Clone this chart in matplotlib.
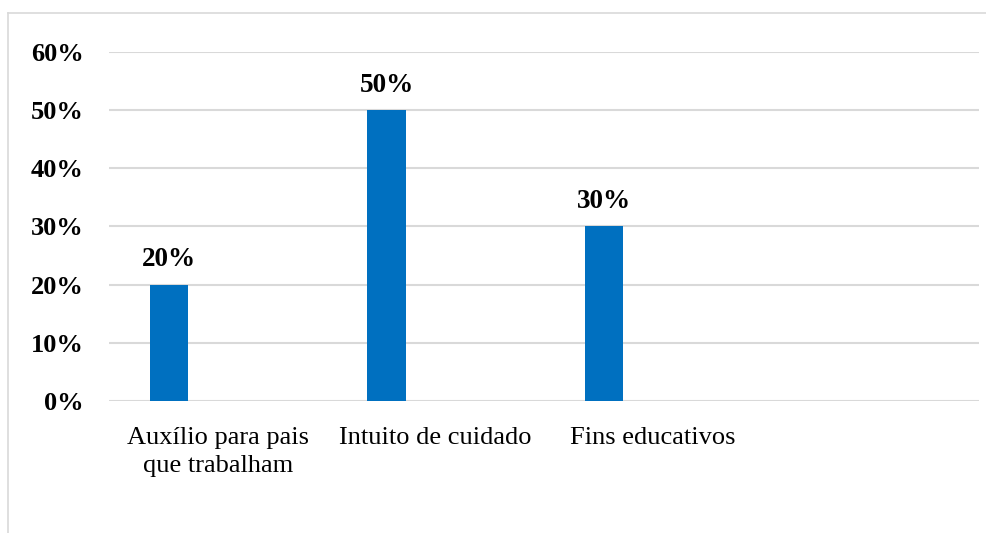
import matplotlib.pyplot as plt
from matplotlib.lines import Line2D
from matplotlib.ticker import PercentFormatter

categories = ['Auxílio para pais\nque trabalham', 'Intuito de cuidado', 'Fins educativos']
values = [0.20, 0.50, 0.30]
yticks = [0.0, 0.1, 0.2, 0.3, 0.4, 0.5, 0.6]

BAR_COLOR = '#0070C0'
GRID_COLOR = '#D9D9D9'
SERIF = ['Liberation Serif', 'DejaVu Serif']

fig = plt.figure(figsize=(9.87, 5.33), dpi=100)
ax = fig.add_axes([0.1104, 0.2477, 0.8815, 0.6547])

# Excel-style clustered layout: the bar sits left of the slot centre
positions = [i - 0.224 for i in range(len(categories))]
bars = ax.bar(positions, values, width=0.175, color=BAR_COLOR, zorder=3)

for bar, v in zip(bars, values):
    ax.annotate(f'{v:.0%}', (bar.get_x() + bar.get_width() / 2, v),
                xytext=(0, 9), textcoords='offset points',
                ha='center', va='bottom', fontsize=19.5, fontweight='bold',
                family=SERIF)

ax.set_xlim(-0.5, 3.5)
ax.set_ylim(0, 0.6)
ax.set_yticks(yticks)
ax.yaxis.set_major_formatter(PercentFormatter(1.0, decimals=0))
ax.set_xticks(range(len(categories)))
ax.set_xticklabels(categories, fontsize=19, family=SERIF, linespacing=1.35)
for lbl in ax.get_yticklabels():
    lbl.set_fontsize(19)
    lbl.set_fontweight('bold')
    lbl.set_family(SERIF)

ax.tick_params(axis='both', length=0)
ax.tick_params(axis='x', pad=19)
ax.tick_params(axis='y', pad=18)
ax.grid(axis='y', color=GRID_COLOR, linewidth=1.5, zorder=0)
ax.set_axisbelow(True)
for s in ax.spines.values():
    s.set_visible(False)

# chart frame (left and top edges only are visible)
fx = 8 / 987
fy = 1 - 13 / 533
fig.add_artist(Line2D([fx, fx], [0, fy], color=GRID_COLOR, linewidth=1.2, transform=fig.transFigure))
fig.add_artist(Line2D([fx, 1], [fy, fy], color=GRID_COLOR, linewidth=1.2, transform=fig.transFigure))

fig.savefig('out.png', dpi=100)
